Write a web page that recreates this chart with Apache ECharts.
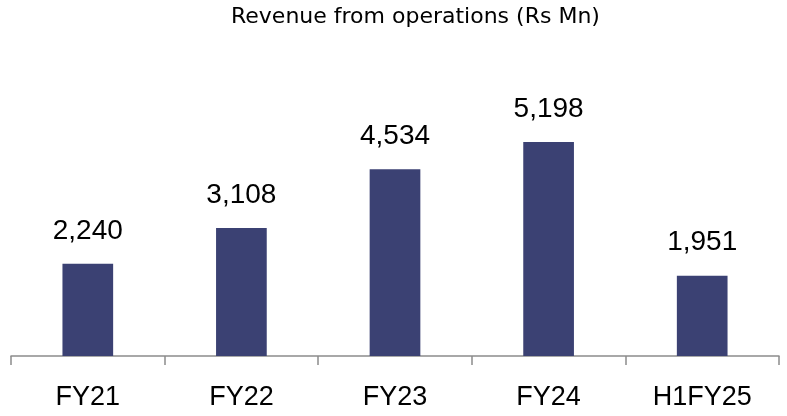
<!DOCTYPE html>
<html>
<head>
<meta charset="utf-8">
<script src="https://cdn.jsdelivr.net/npm/echarts@6/dist/echarts.min.js"></script>
<style>
  html, body { margin: 0; padding: 0; background: #fff; }
  #chart { width: 787px; height: 416px; }
</style>
</head>
<body>
<div id="chart"></div>
<script>
const categories = ['FY21', 'FY22', 'FY23', 'FY24', 'H1FY25']
const revenue = [2240, 3108, 4534, 5198, 1951]
const chartTitle = 'Revenue from operations (Rs Mn)'

const myChart = echarts.init(document.getElementById('chart'))
myChart.setOption({
    animation: false,
    title: {
        text: chartTitle,
        left: 226,
        top: 1,
        textStyle: {
            fontFamily: 'DejaVu Sans',
            fontSize: 22,
            fontWeight: 'normal',
            color: '#000'
        }
    },
    grid: {
        left: 11,
        right: 8,
        top: 109,
        bottom: 60
    },
    xAxis: {
        type: 'category',
        data: categories,
        axisLine: { lineStyle: { color: '#8c8c8c', width: 1.5 } },
        axisTick: { show: true, length: 9, lineStyle: { color: '#8c8c8c', width: 1.5 } },
        axisLabel: {
            margin: 28,
            fontFamily: 'Liberation Sans',
            fontSize: 27,
            color: '#000'
        }
    },
    yAxis: {
        type: 'value',
        min: 0,
        max: 6000,
        show: false
    },
    series: [{
        type: 'bar',
        data: revenue,
        barWidth: '33%',
        itemStyle: { color: '#3b4173' },
        label: {
            show: true,
            position: 'top',
            distance: 19,
            fontFamily: 'Liberation Sans',
            fontSize: 28,
            color: '#000',
            formatter: p => p.value.toLocaleString('en-US')
        }
    }]
})
</script>
</body>
</html>
